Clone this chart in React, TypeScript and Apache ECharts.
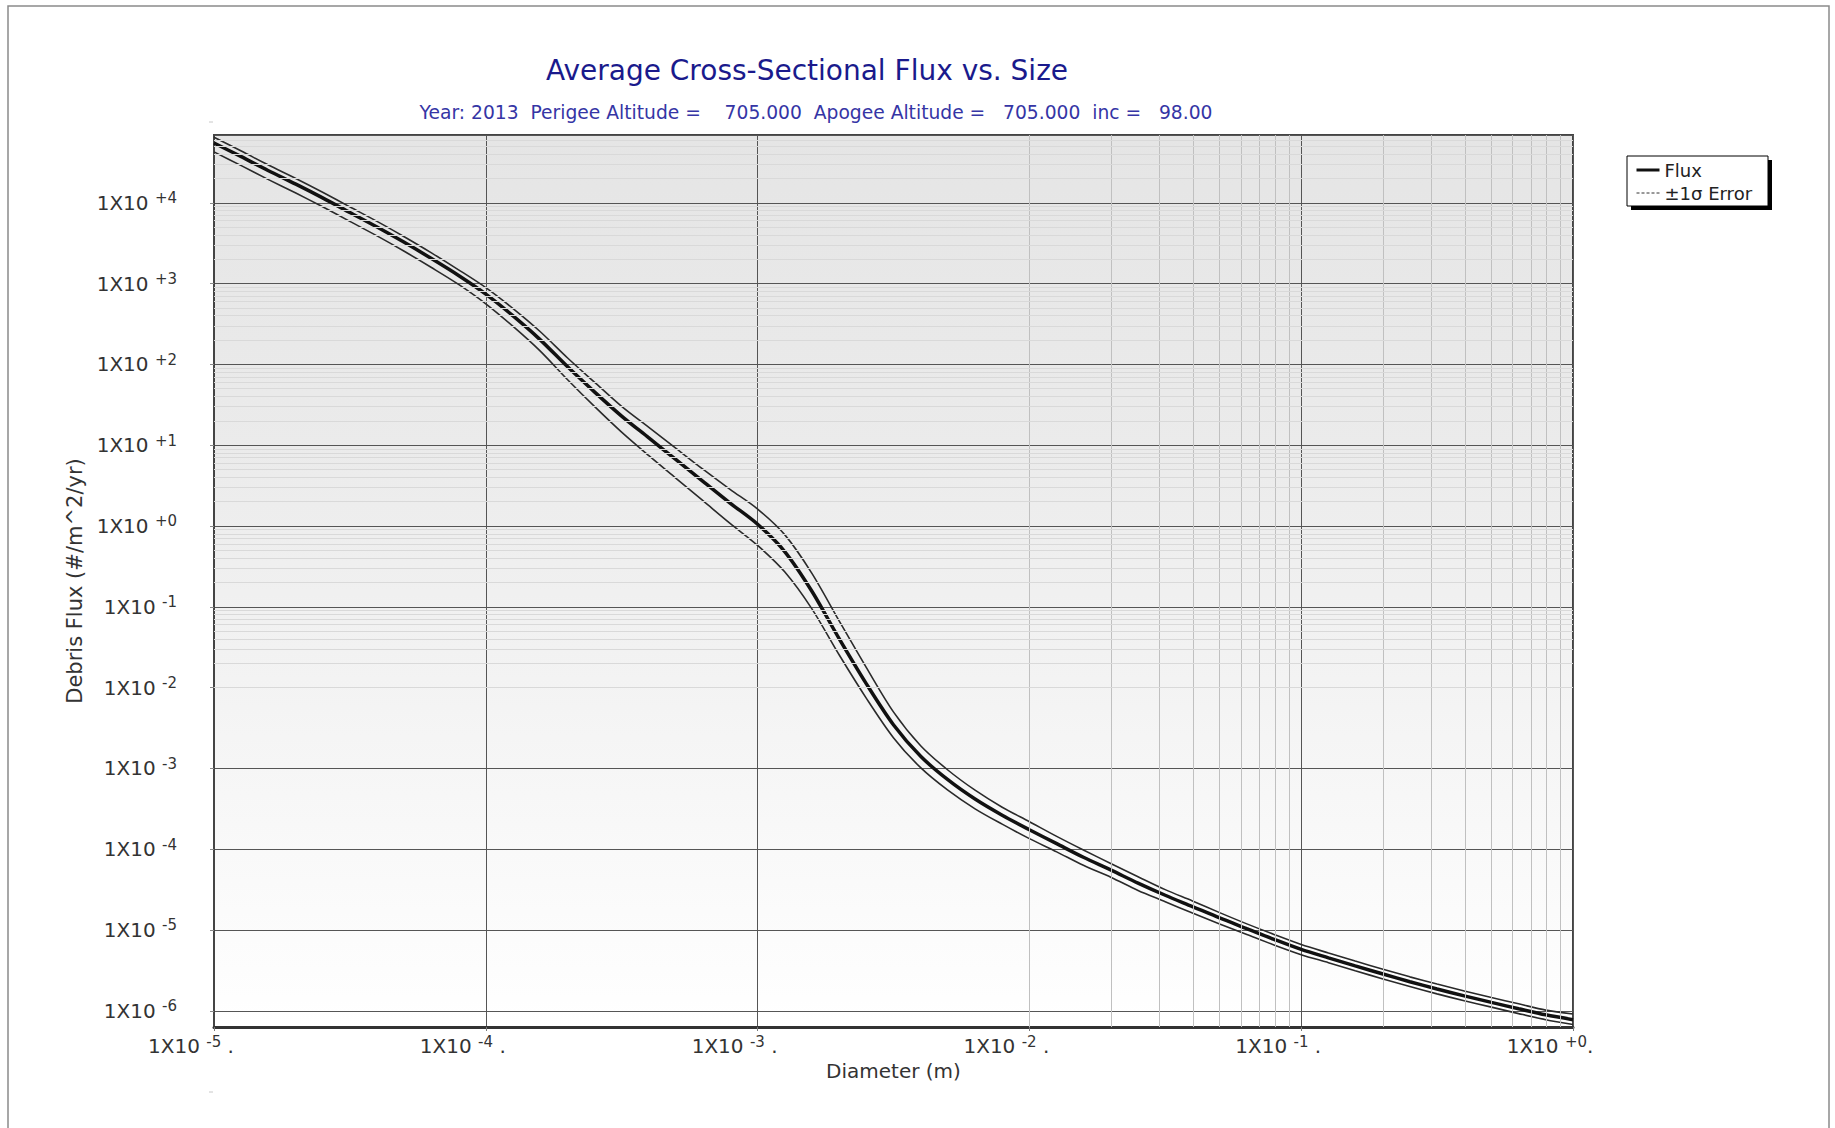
import React, { useEffect, useRef } from "react";
import * as echarts from "echarts";

// ---- Data (diameter in m, flux in #/m^2/yr) ----
const diameters = [
  1e-5, 1.26e-5, 1.58e-5, 2e-5, 2.51e-5, 3.16e-5, 3.98e-5, 5.01e-5, 6.31e-5, 7.94e-5,
  1e-4, 1.26e-4, 1.58e-4, 2e-4, 2.51e-4, 3.16e-4, 3.98e-4, 5.01e-4, 6.31e-4, 7.94e-4,
  1e-3, 1.26e-3, 1.58e-3, 2e-3, 2.51e-3, 3.16e-3, 3.98e-3, 5.01e-3, 6.31e-3, 7.94e-3,
  1e-2, 1.26e-2, 1.58e-2, 2e-2, 2.51e-2, 3.16e-2, 3.98e-2, 5.01e-2, 6.31e-2, 7.94e-2,
  1e-1, 1.26e-1, 1.58e-1, 2e-1, 2.51e-1, 3.16e-1, 3.98e-1, 5.01e-1, 6.31e-1, 7.94e-1,
  1,
];

const flux = [
  5.5e4, 3.72e4, 2.51e4, 1.7e4, 1.15e4, 7.59e3, 5.01e3, 3.24e3, 2.04e3, 1.26e3,
  741, 398, 204, 93.3, 45.7, 22.9, 12.3, 6.61, 3.55, 1.91,
  1.05, 0.479, 0.158, 3.98e-2, 1.12e-2, 3.47e-3, 1.41e-3, 7.24e-4, 4.17e-4, 2.63e-4,
  1.74e-4, 1.17e-4, 7.94e-5, 5.5e-5, 3.8e-5, 2.69e-5, 1.95e-5, 1.41e-5, 1.04e-5, 7.67e-6,
  5.75e-6, 4.52e-6, 3.59e-6, 2.85e-6, 2.29e-6, 1.86e-6, 1.53e-6, 1.27e-6, 1.06e-6, 8.91e-7,
  7.76e-7,
];

const fluxUpper = [
  6.46e4, 4.37e4, 2.95e4, 2.0e4, 1.35e4, 8.91e3, 5.89e3, 3.8e3, 2.4e3, 1.48e3,
  891, 490, 257, 120, 60.3, 30.2, 16.6, 9.12, 5.01, 2.82,
  1.62, 0.776, 0.263, 6.61e-2, 1.78e-2, 5.01e-3, 1.91e-3, 9.55e-4, 5.37e-4, 3.31e-4,
  2.19e-4, 1.44e-4, 9.77e-5, 6.61e-5, 4.57e-5, 3.16e-5, 2.29e-5, 1.64e-5, 1.19e-5, 8.81e-6,
  6.61e-6, 5.19e-6, 4.12e-6, 3.27e-6, 2.63e-6, 2.14e-6, 1.76e-6, 1.46e-6, 1.22e-6, 1.02e-6,
  9.12e-7,
];

const fluxLower = [
  4.27e4, 2.88e4, 1.95e4, 1.32e4, 8.91e3, 5.89e3, 3.89e3, 2.51e3, 1.58e3, 977,
  562, 295, 148, 64.6, 30.2, 14.5, 7.41, 3.89, 2.04, 1.07,
  0.575, 0.269, 9.55e-2, 2.51e-2, 7.41e-3, 2.4e-3, 1.02e-3, 5.37e-4, 3.16e-4, 2.04e-4,
  1.35e-4, 9.27e-5, 6.31e-5, 4.47e-5, 3.09e-5, 2.24e-5, 1.62e-5, 1.19e-5, 8.81e-6, 6.53e-6,
  4.95e-6, 3.94e-6, 3.13e-6, 2.48e-6, 2.0e-6, 1.62e-6, 1.33e-6, 1.11e-6, 9.23e-7, 7.76e-7,
  6.76e-7,
];

const titleText = "Average Cross-Sectional Flux vs. Size";
const subtitleText =
  "Year: 2013  Perigee Altitude =    705.000  Apogee Altitude =   705.000  inc =   98.00";
const xAxisName = "Diameter (m)";
const yAxisName = "Debris Flux (#/m^2/yr)";
const seriesNames = ["Flux", "±1σ Error"];

// axis ranges
const xMin = 1e-5;
const xMax = 1;
const yMin = 6.3e-7;
const yMax = 6.9e4;

const FONT = "'DejaVu Sans', Verdana, sans-serif";

// minor (2..9 x 10^k) grid positions
const minorX: number[] = [];
for (let e = -5; e < 0; e++) for (let m = 2; m <= 9; m++) minorX.push(m * Math.pow(10, e));
const minorY: number[] = [];
for (let e = -7; e <= 4; e++)
  for (let m = 2; m <= 9; m++) {
    const v = m * Math.pow(10, e);
    if (v > yMin && v < yMax) minorY.push(v);
  }

const expStr = (e: number) => (e >= 0 ? "+" + e : String(e));

const richLabel = {
  m: { fontSize: 20, color: "#333", fontFamily: FONT, lineHeight: 24 },
  s: { fontSize: 15, color: "#333", fontFamily: FONT, lineHeight: 14, verticalAlign: "top" },
};

export default function App() {
  const ref = useRef<HTMLDivElement>(null);

  useEffect(() => {
    if (!ref.current) return;
    const chart = echarts.init(ref.current, null, { renderer: "svg" });

    const option: any = {
      animation: false,
      backgroundColor: "#ffffff",
      textStyle: { fontFamily: FONT },
      title: [
        {
          text: titleText,
          left: 807,
          top: 53,
          textAlign: "center",
          padding: 0,
          textStyle: { fontSize: 28, fontWeight: "normal", color: "#1a1a8c", fontFamily: FONT, lineHeight: 34 },
        },
        {
          text: subtitleText,
          left: 816,
          top: 102,
          textAlign: "center",
          padding: 0,
          textStyle: { fontSize: 18.7, fontWeight: "normal", color: "#3535a5", fontFamily: FONT, lineHeight: 20 },
        },
      ],
      legend: {
        orient: "vertical",
        left: 1635,
        top: 161,
        itemWidth: 23,
        itemHeight: 14,
        itemGap: 5,
        padding: 0,
        z: 10,
        itemStyle: { opacity: 0, borderWidth: 0 },
        textStyle: { fontSize: 18, color: "#222", fontFamily: FONT },
        data: [
          { name: seriesNames[0], itemStyle: { opacity: 0 }, lineStyle: { width: 3, color: "#111", type: "solid" } },
          { name: seriesNames[1], itemStyle: { opacity: 0 }, lineStyle: { type: [3, 2], width: 1, color: "#333" } },
        ],
      },
      grid: {
        left: 214,
        top: 135,
        width: 1359,
        height: 892,
        show: true,
        borderColor: "#444",
        borderWidth: 2,
        backgroundColor: new echarts.graphic.LinearGradient(0, 0, 0, 1, [
          { offset: 0, color: "#e5e5e5" },
          { offset: 0.35, color: "#ebebeb" },
          { offset: 1, color: "#ffffff" },
        ]),
      },
      xAxis: {
        type: "log",
        logBase: 10,
        min: xMin,
        max: xMax,
        name: xAxisName,
        nameLocation: "middle",
        nameGap: 33,
        nameTextStyle: { fontSize: 20, color: "#333", fontFamily: FONT },
        axisLine: { show: true, onZero: false, lineStyle: { color: "#333", width: 3 } },
        axisTick: { show: true, length: 4, lineStyle: { color: "#777" } },
        axisLabel: {
          margin: 7,
          align: "center",
          padding: [0, 46, 0, 0],
          formatter: (v: number) => {
            const e = Math.round(Math.log10(v));
            return `{m|1X10 }{s|${expStr(e)}}{m|${e === 0 ? "." : " ."}}`;
          },
          rich: richLabel,
        },
        splitLine: { show: true, lineStyle: { color: "#555", width: 1 } },
      },
      yAxis: [
        {
          type: "log",
          logBase: 10,
          min: yMin,
          max: yMax,
          position: "left",
          show: false,
        },
        {
          type: "value",
          position: "left",
          min: Math.log10(yMin),
          max: Math.log10(yMax),
          minInterval: 1,
          maxInterval: 1,
          splitNumber: 11,
          name: yAxisName,
          nameLocation: "middle",
          nameGap: 125,
          nameRotate: 90,
          nameTextStyle: { fontSize: 21, color: "#333", fontFamily: FONT },
          axisLine: { show: true, lineStyle: { color: "#444", width: 2 } },
          axisTick: { show: true, length: 4, lineStyle: { color: "#888" } },
          axisLabel: {
            margin: 37,
            showMinLabel: false,
            showMaxLabel: false,
            formatter: (v: number) => {
              if (Math.abs(v - Math.round(v)) > 1e-6) return "";
              return `{m|1X10 }{s|${expStr(Math.round(v))}}`;
            },
            rich: richLabel,
          },
          splitLine: { show: true, lineStyle: { color: "#555", width: 1 } },
        },
      ],
      graphic: [
        {
          type: "rect",
          silent: true,
          z: 0,
          shape: { x: 8, y: 6, width: 1821, height: 1140 },
          style: { fill: "none", stroke: "#8a8a8a", lineWidth: 1.5 },
        },
        {
          type: "rect",
          silent: true,
          z: 1,
          shape: { x: 1631, y: 160, width: 141, height: 50 },
          style: { fill: "#000" },
        },
        {
          type: "rect",
          silent: true,
          z: 2,
          shape: { x: 1627, y: 156, width: 141, height: 50 },
          style: { fill: "#fff", stroke: "#000", lineWidth: 1 },
        },
        {
          type: "line",
          silent: true,
          shape: { x1: 209, y1: 122, x2: 213, y2: 122 },
          style: { stroke: "#c8c8c8", lineWidth: 1 },
        },
        {
          type: "line",
          silent: true,
          shape: { x1: 209, y1: 1092, x2: 213, y2: 1092 },
          style: { stroke: "#c8c8c8", lineWidth: 1 },
        },
      ],
      series: [
        {
          name: "minor-grid",
          type: "line",
          data: [],
          z: 1,
          silent: true,
          xAxisIndex: 0,
          yAxisIndex: 0,
          markLine: {
            silent: true,
            symbol: ["none", "none"],
            label: { show: false },
            animation: false,
            lineStyle: { type: "solid", width: 1 },
            data: [
              ...minorX.map((v) => ({ xAxis: v, lineStyle: { color: "#c0c0c0", type: "solid", width: 1 } })),
              ...minorY.map((v) => ({ yAxis: v, lineStyle: { color: "#d9d9d9", type: "solid", width: 1 } })),
            ],
          },
        },
        {
          name: seriesNames[1],
          type: "line",
          xAxisIndex: 0,
          yAxisIndex: 0,
          symbol: "none",
          smooth: 0.3,
          z: 3,
          silent: true,
          itemStyle: { color: "#333" },
          lineStyle: { color: "#2a2a2a", width: 1.6 },
          data: diameters.map((d, i) => [d, fluxUpper[i]]),
        },
        {
          name: seriesNames[1],
          type: "line",
          xAxisIndex: 0,
          yAxisIndex: 0,
          symbol: "none",
          smooth: 0.3,
          z: 3,
          silent: true,
          itemStyle: { color: "#333" },
          lineStyle: { color: "#2a2a2a", width: 1.6 },
          data: diameters.map((d, i) => [d, fluxLower[i]]),
        },
        {
          name: seriesNames[0],
          type: "line",
          xAxisIndex: 0,
          yAxisIndex: 0,
          symbol: "none",
          smooth: 0.3,
          z: 4,
          silent: true,
          itemStyle: { color: "#111" },
          lineStyle: { color: "#111", width: 3.5 },
          data: diameters.map((d, i) => [d, flux[i]]),
        },
      ],
    };

    chart.setOption(option);
    return () => chart.dispose();
  }, []);

  return (
    <div
      ref={ref}
      style={{ position: "absolute", left: 0, top: 0, width: 1835, height: 1128, background: "#fff" }}
    />
  );
}
